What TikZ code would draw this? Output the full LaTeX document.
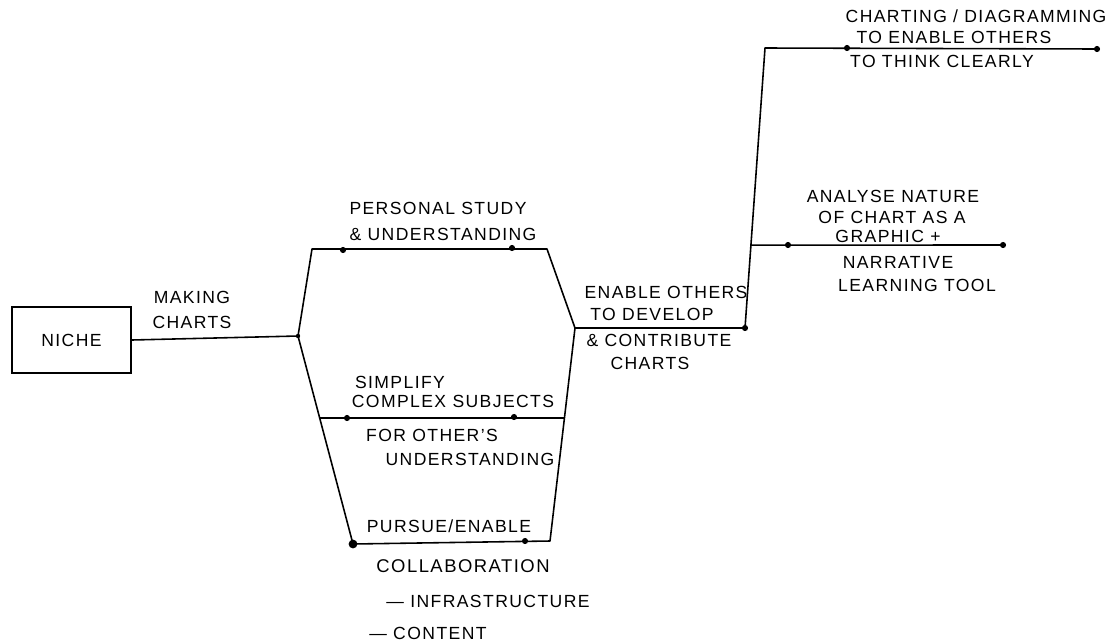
\documentclass[tikz,border=0pt]{standalone}
\usepackage{fontspec}
\usetikzlibrary{calc}
\setmainfont{Liberation Sans}[LetterSpace=8]
\begin{document}
\begin{tikzpicture}[x=0.02cm,y=-0.02cm,
  lbl/.style={font=\fontsize{10}{12}\selectfont, inner sep=0pt, anchor=center},
  dotmark/.style={circle, fill=black, inner sep=0pt, minimum size=3.5pt},
  bigdot/.style={circle, fill=black, inner sep=0pt, minimum size=5pt},
  link/.style={draw=black, line width=0.9pt, line join=round}]
\useasboundingbox (0,0) rectangle (1118,643);
% main box
\node[draw, line width=0.9pt, minimum width=2.38cm, minimum height=1.32cm, lbl] (niche) at (71.5,340) {NICHE};
% junction coordinates
\coordinate (J) at (298,336);
\coordinate (PL) at (312,249);
\coordinate (PR) at (547,249);
\coordinate (E) at (575,328);
\coordinate (CL) at (353,544);
\coordinate (CR) at (550,541);
\coordinate (SL) at ($(J)!0.394!(CL)$);
\coordinate (SR) at ($(E)!0.4225!(CR)$);
\coordinate (EO) at (745,328);
\coordinate (TC) at (765,48);
\coordinate (TE) at (1097,49);
\coordinate (AL) at ($(EO)!0.296!(TC)$);
\coordinate (AE) at (1003,245);
% connectors
\draw[link] (niche.east) -- (J);
\draw[link] (J) -- (PL) -- (PR) -- (E);
\draw[link] (J) -- (CL) -- (CR) -- (E);
\draw[link] (SL) -- (SR);
\draw[link] (E) -- (EO);
\draw[link] (EO) -- (TC) -- (TE);
\draw[link] (AL) -- (AE);
% dots
\node[dotmark] (d1) at (343,250) {};
\node[dotmark] (d2) at (512,248) {};
\node[dotmark] (d3) at (347,418) {};
\node[dotmark] (d4) at (514,417) {};
\node[bigdot] (d5) at (CL) {};
\node[dotmark] (d6) at (525,541) {};
\node[dotmark] (d7) at (EO) {};
\node[dotmark] (d8) at (847,48) {};
\node[dotmark] (d9) at (TE) {};
\node[dotmark] (d10) at (788,245) {};
\node[dotmark] (d11) at (AE) {};
\node[dotmark, minimum size=2.5pt] (d12) at (J) {};
% labels
\node[lbl] (t1) at (192,297) {MAKING};
\node[lbl] (t2) at (192,322) {CHARTS};
\node[lbl] (t3) at (438,208) {PERSONAL STUDY};
\node[lbl] (t4) at (443,234) {\& UNDERSTANDING};
\node[lbl] (t5) at (400,382) {SIMPLIFY};
\node[lbl] (t6) at (453,401) {COMPLEX SUBJECTS};
\node[lbl] (t7) at (432,435) {FOR OTHER'S};
\node[lbl] (t8) at (470,459) {UNDERSTANDING};
\node[lbl] (t9) at (449,526) {PURSUE/ENABLE};
\node[lbl, font=\fontsize{10.5}{12}\selectfont] (t10) at (463,566) {COLLABORATION};
\node[lbl] (t11) at (488,601) {— INFRASTRUCTURE};
\node[lbl] (t12) at (428,633) {— CONTENT};
\node[lbl] (t13) at (666,292) {ENABLE OTHERS};
\node[lbl] (t14) at (652,314) {TO DEVELOP};
\node[lbl] (t15) at (659,340) {\& CONTRIBUTE};
\node[lbl] (t16) at (650,363) {CHARTS};
\node[lbl] (t17) at (976,16) {CHARTING / DIAGRAMMING};
\node[lbl] (t18) at (954,37) {TO ENABLE OTHERS};
\node[lbl] (t19) at (942,61) {TO THINK CLEARLY};
\node[lbl] (t20) at (893,196) {ANALYSE NATURE};
\node[lbl] (t21) at (892,217) {OF CHART AS A};
\node[lbl] (t22) at (888,236) {GRAPHIC +};
\node[lbl] (t23) at (898,262) {NARRATIVE};
\node[lbl] (t24) at (917,285) {LEARNING TOOL};
\end{tikzpicture}
\end{document}
